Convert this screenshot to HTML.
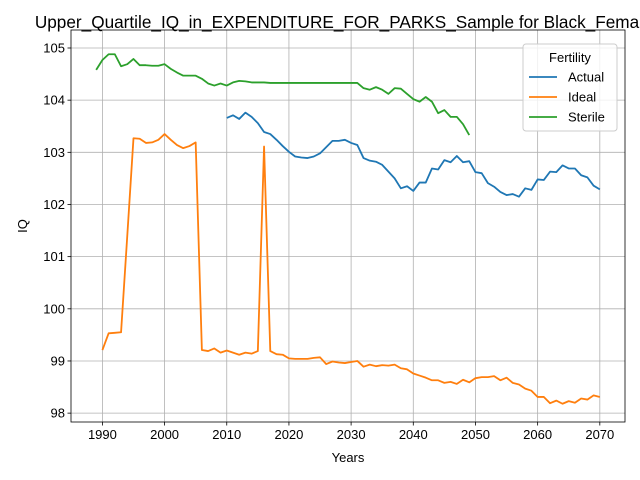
<!DOCTYPE html>
<html><head><meta charset="utf-8"><style>body{margin:0;background:#fff}svg{display:block;font-family:"Liberation Sans","DejaVu Sans",sans-serif}</style></head>
<body>
<svg id="c" width="640" height="480" viewBox="0 0 640 480">
<rect width="640" height="480" fill="#fff"/>
<text x="348" y="28" font-size="17.2" text-anchor="middle" fill="#000">Upper_Quartile_IQ_in_EXPENDITURE_FOR_PARKS_Sample for Black_Females</text>
<g id="grid"></g><g id="series"></g><g id="axes"></g>
<text x="348" y="462" font-size="13" text-anchor="middle">Years</text>
<text x="27" y="226" font-size="13" text-anchor="middle" transform="rotate(-90 27 226)">IQ</text>
<g id="legend">
<rect x="523" y="44" width="94" height="87" rx="3" fill="#fff" fill-opacity="0.8" stroke="#ccc"/>
<text x="570" y="62" font-size="13" text-anchor="middle">Fertility</text>
</g>
</svg>
<script>
const actualStart = 2010, idealStart = 1990, sterileStart = 1989;
const actual = [103.66,103.71,103.64,103.76,103.68,103.56,103.39,103.35,103.24,103.12,103.01,102.92,102.9,102.89,102.92,102.98,103.1,103.22,103.22,103.24,103.18,103.14,102.89,102.84,102.82,102.76,102.63,102.5,102.31,102.35,102.26,102.42,102.42,102.69,102.67,102.85,102.81,102.93,102.81,102.83,102.62,102.6,102.41,102.34,102.24,102.18,102.2,102.15,102.31,102.28,102.48,102.47,102.63,102.62,102.75,102.69,102.69,102.56,102.52,102.36,102.29];
const ideal = [99.21,99.53,99.54,99.55,101.4,103.27,103.26,103.18,103.19,103.24,103.35,103.24,103.14,103.08,103.12,103.19,99.21,99.19,99.24,99.16,99.2,99.16,99.12,99.16,99.14,99.19,103.11,99.19,99.13,99.12,99.05,99.04,99.04,99.04,99.06,99.07,98.94,98.99,98.97,98.96,98.98,99.0,98.89,98.93,98.9,98.92,98.91,98.93,98.86,98.84,98.76,98.72,98.68,98.63,98.63,98.58,98.6,98.56,98.64,98.59,98.67,98.69,98.69,98.71,98.63,98.68,98.58,98.55,98.47,98.43,98.31,98.31,98.19,98.24,98.18,98.23,98.2,98.28,98.26,98.34,98.31];
const sterile = [104.58,104.77,104.88,104.88,104.65,104.69,104.79,104.67,104.67,104.66,104.66,104.69,104.6,104.53,104.47,104.47,104.47,104.41,104.32,104.28,104.32,104.28,104.34,104.37,104.36,104.34,104.34,104.34,104.33,104.33,104.33,104.33,104.33,104.33,104.33,104.33,104.33,104.33,104.33,104.33,104.33,104.33,104.33,104.23,104.2,104.25,104.2,104.12,104.23,104.22,104.12,104.02,103.97,104.06,103.97,103.75,103.81,103.68,103.68,103.54,103.33];
const xTicks = [1990,2000,2010,2020,2030,2040,2050,2060,2070];
const yTicks = [98,99,100,101,102,103,104,105];
const L=71,R=625,T=30,B=422, X0=1984.95,X1=2074.05,Y0=97.83,Y1=105.345;
const xs=v=>L+(v-X0)/(X1-X0)*(R-L);
const ys=v=>B-(v-Y0)/(Y1-Y0)*(B-T);
const NS='http://www.w3.org/2000/svg';
function mk(tag,attrs,parent){const e=document.createElementNS(NS,tag);for(const k in attrs)e.setAttribute(k,attrs[k]);parent.appendChild(e);return e;}
const grid=document.getElementById('grid'),axes=document.getElementById('axes'),ser=document.getElementById('series');
xTicks.forEach(t=>{const x=xs(t);
 const g=mk('line',{x1:x,x2:x,y1:T,y2:B,stroke:'#b0b0b0','stroke-width':0.8},grid);
 
 
 mk('line',{x1:x,x2:x,y1:B,y2:B+3.5,stroke:'#000','stroke-width':0.8},axes);
 const tx=mk('text',{x:x,y:B+17,'font-size':13,'text-anchor':'middle'},axes);tx.textContent=t;
 
 });
yTicks.forEach(t=>{const y=ys(t);
 const g=mk('line',{x1:L,x2:R,y1:y,y2:y,stroke:'#b0b0b0','stroke-width':0.8},grid);
 
 
 mk('line',{x1:L-3.5,x2:L,y1:y,y2:y,stroke:'#000','stroke-width':0.8},axes);
 const tx=mk('text',{x:L-6,y:y+4.5,'font-size':13,'text-anchor':'end'},axes);tx.textContent=t;
 
 });
const fr=mk('rect',{x:L,y:T,width:R-L,height:B-T,fill:'none',stroke:'#000','stroke-width':0.8},axes);


function line(vals,start,color,name){
 const p=mk('polyline',{points:vals.map((v,i)=>xs(start+i)+','+ys(v)).join(' '),fill:'none',stroke:color,'stroke-width':1.8,'stroke-linejoin':'round'},ser);
 
 }
line(actual,actualStart,'#1f77b4','actual-line');
line(ideal,idealStart,'#ff7f0e','ideal-line');
line(sterile,sterileStart,'#2ca02c','sterile-line');
const leg=document.getElementById('legend');
[['Actual','#1f77b4'],['Ideal','#ff7f0e'],['Sterile','#2ca02c']].forEach((d,i)=>{
 const y=77+i*20;
 const g=mk('g',{},leg);
 
 
 mk('line',{x1:529,x2:557,y1:y,y2:y,stroke:d[1],'stroke-width':1.8},g);
 const t=mk('text',{x:568,y:y+4.5,'font-size':13},g);t.textContent=d[0];});
</script>
</body></html>
